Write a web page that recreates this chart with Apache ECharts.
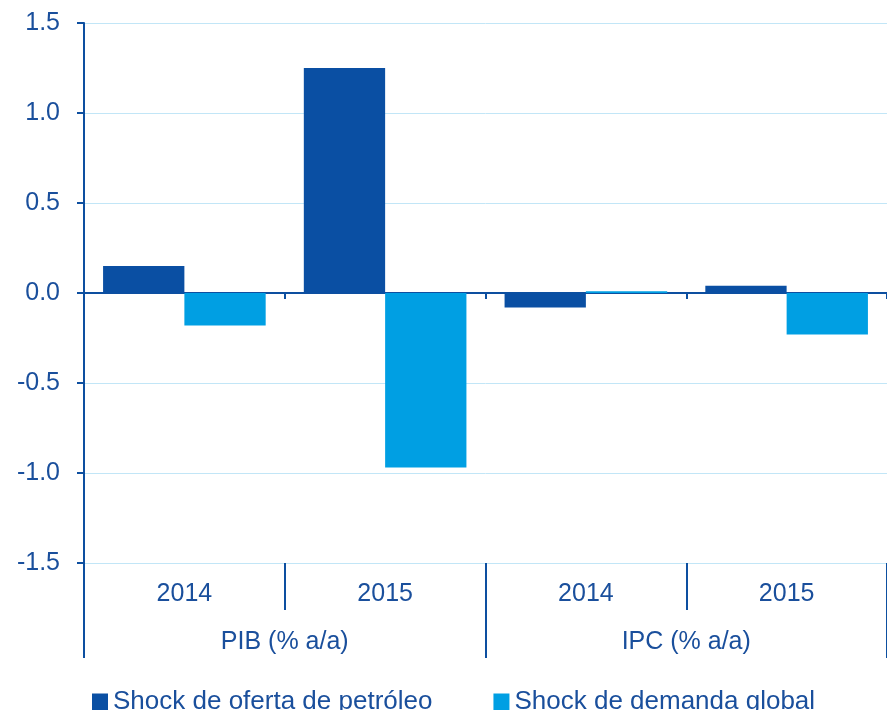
<!DOCTYPE html>
<html>
<head>
<meta charset="utf-8">
<script src="https://cdn.jsdelivr.net/npm/echarts@6/dist/echarts.min.js"></script>
<style>
  html, body { margin: 0; padding: 0; background: #fff; }
  #chart { width: 887px; height: 710px; }
</style>
</head>
<body>
<div id="chart"></div>
<script>
// datos
const years = ['2014', '2015', '2014', '2015']
const groups = ['PIB (% a/a)', 'IPC (% a/a)']
const ofertaPetroleo = [0.15, 1.25, -0.08, 0.04]
const demandaGlobal = [-0.18, -0.97, 0.01, -0.23]

const AXIS_BLUE = '#0d4fa0'
const TEXT_BLUE = '#1a4f9c'
const DARK = '#0a4fa3'
const LIGHT = '#009fe3'
const FONT = 'Liberation Sans, Arial, sans-serif'

const chart = echarts.init(document.getElementById('chart'))

chart.setOption({
  animation: false,
  textStyle: { fontFamily: FONT },
  // right negativo: la última marca queda fuera del lienzo, como en el original
  grid: { left: 84, right: -2, top: 23, bottom: 147, containLabel: false },
  legend: {
    left: 87,
    top: 684,
    itemWidth: 16,
    itemHeight: 17,
    itemGap: 61,
    icon: 'rect',
    textStyle: { color: TEXT_BLUE, fontSize: 26, fontFamily: FONT },
    data: ['Shock de oferta de petróleo', 'Shock de demanda global'],
  },
  xAxis: [
    {
      // eje en cero
      type: 'category',
      data: years,
      position: 'bottom',
      axisLine: { onZero: true, lineStyle: { color: AXIS_BLUE, width: 2 } },
      axisTick: { show: true, length: 6, lineStyle: { color: AXIS_BLUE, width: 2 } },
      axisLabel: { show: false },
      splitLine: { show: false },
    },
    {
      // años
      type: 'category',
      data: years,
      position: 'bottom',
      axisLine: { show: false, onZero: false },
      axisTick: { show: true, length: 47, lineStyle: { color: AXIS_BLUE, width: 2 } },
      axisLabel: { color: TEXT_BLUE, fontSize: 25, margin: 19, fontFamily: FONT },
      splitLine: { show: false },
    },
    {
      // grupos
      type: 'category',
      data: groups,
      position: 'bottom',
      axisLine: { show: false, onZero: false },
      axisTick: { show: true, length: 95, lineStyle: { color: AXIS_BLUE, width: 2 } },
      axisLabel: { color: TEXT_BLUE, fontSize: 25, margin: 67, fontFamily: FONT },
      splitLine: { show: false },
    },
  ],
  yAxis: {
    type: 'value',
    min: -1.5,
    max: 1.5,
    interval: 0.5,
    axisLine: { show: true, lineStyle: { color: AXIS_BLUE, width: 2 } },
    axisTick: { show: true, length: 7, lineStyle: { color: AXIS_BLUE, width: 2 } },
    axisLabel: {
      color: TEXT_BLUE,
      fontSize: 25,
      margin: 24,
      fontFamily: FONT,
      formatter: (v) => v.toFixed(1),
    },
    splitLine: { lineStyle: { color: '#c2e6f7', width: 1 } },
  },
  series: [
    {
      name: 'Shock de oferta de petróleo',
      type: 'bar',
      data: ofertaPetroleo,
      barCategoryGap: '19%',
      barGap: '0%',
      itemStyle: { color: DARK },
    },
    {
      name: 'Shock de demanda global',
      type: 'bar',
      data: demandaGlobal,
      barCategoryGap: '19%',
      barGap: '0%',
      itemStyle: { color: LIGHT },
    },
  ],
})
</script>
</body>
</html>
